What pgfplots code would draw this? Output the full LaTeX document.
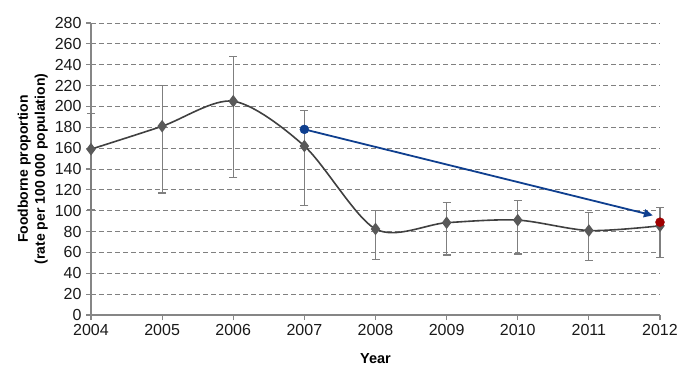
\documentclass[border=0pt]{standalone}
\usepackage{fontspec}
\setmainfont{Liberation Sans}
\usepackage{pgfplots}
\pgfplotsset{compat=1.18}
\usetikzlibrary{arrows.meta}
\definecolor{lineC}{HTML}{404040}
\definecolor{markC}{HTML}{595959}
\definecolor{errC}{HTML}{7F7F7F}
\definecolor{gridC}{HTML}{808080}
\definecolor{axC}{HTML}{868686}
\definecolor{blueC}{HTML}{0F3F8F}
\definecolor{redC}{HTML}{A00000}
\begin{document}
\begin{tikzpicture}
\begin{axis}[
  at={(0,0)}, anchor=south west,
  scale only axis, width=569pt, height=292pt,
  xmin=2004, xmax=2012, ymin=0, ymax=280,
  xtick={2004,2005,2006,2007,2008,2009,2010,2011,2012},
  xticklabels={2004,2005,2006,2007,2008,2009,2010,2011,2012},
  ytick={0,20,...,280},
  axis lines*=left,
  axis line style={axC, line width=1.3pt},
  tick style={axC, line width=1.2pt},
  tick align=outside, major tick length=5pt,
  ymajorgrids, grid style={gridC, dashed, line width=0.9pt, dash pattern=on 5pt off 3pt},
  /pgf/number format/assume math mode=true,
  /pgf/number format/1000 sep={},
  tick label style={font=\fontsize{16}{18}\selectfont, text=black!90},
  xticklabel style={yshift=-1pt},
  yticklabel style={xshift=-1pt},
  ylabel={\bfseries\begin{tabular}{c}Foodborne proportion\\(rate per 100 000 population)\end{tabular}},
  ylabel style={font=\fontsize{14}{17}\selectfont, at={(axis description cs:-0.102,0.5)}, anchor=center},
  xlabel={\bfseries Year},
  xlabel style={font=\fontsize{14.5}{16}\selectfont, at={(axis description cs:0.5,-0.15)}, anchor=center},
  clip=false,
]
\addplot[lineC, line width=1.6pt, smooth, tension=0.5,
  mark=diamond*, mark size=5pt, mark options={markC, fill=markC, solid},
  error bars/.cd, y dir=both, y explicit,
  error bar style={errC, line width=1.1pt},
  error mark options={errC, rotate=90, mark size=4pt, line width=1.1pt}]
  table[x=x, y=y, y error plus=ep, y error minus=em] {
x y ep em
2004 159 34 58
2005 181 39 64
2006 205 43 73
2007 162 34 57
2008 82.5 17.5 29
2009 88.5 19 31
2010 91 19 32.5
2011 81 17 29
2012 85.5 18 30.5
};
\addplot[blueC, line width=1.8pt, -{Triangle[length=9pt, width=8pt]}] coordinates {(2007,178) (2011.9,95.5)};
\addplot[only marks, mark=*, mark size=4.5pt, blueC] coordinates {(2007,178)};
\addplot[only marks, mark=*, mark size=4.5pt, redC] coordinates {(2012,89)};
\end{axis}
\pgfresetboundingbox
\path[use as bounding box] (-91pt,-64pt) rectangle (609pt,315pt);
\end{tikzpicture}
\end{document}
